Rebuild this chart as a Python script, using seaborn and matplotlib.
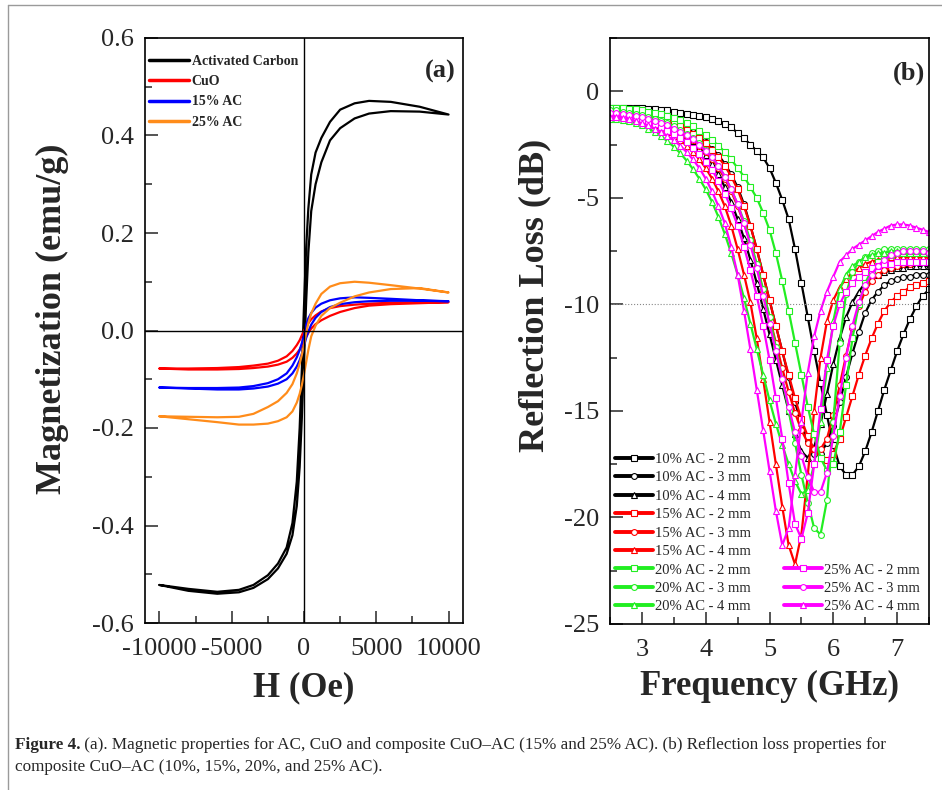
import pandas as pd
import seaborn as sns
import matplotlib.pyplot as plt
from matplotlib.lines import Line2D
from matplotlib.ticker import MultipleLocator

sns.set_style("white")
plt.rcParams["font.family"] = ["Liberation Serif", "DejaVu Serif"]
plt.rcParams["axes.unicode_minus"] = False

# ---------------- panel (a): M-H loops ----------------
field = [-10000, -8000, -6000, -4500, -3500, -2500, -1800, -1200, -800, -500, -300, -150,
         0, 150, 300, 500, 800, 1200, 1800, 2500, 3500, 4500, 6000, 8000, 10000]

# upper = field sweeping down, lower = field sweeping up (both listed low -> high field)
ac_upper = [-0.522, -0.530, -0.536, -0.532, -0.522, -0.502, -0.478, -0.445, -0.395, -0.31, -0.20, -0.08,
            0.05, 0.17, 0.25, 0.32, 0.365, 0.395, 0.428, 0.453, 0.466, 0.471, 0.469, 0.459, 0.443]
ac_lower = [-0.522, -0.534, -0.540, -0.537, -0.528, -0.510, -0.488, -0.458, -0.42, -0.36, -0.28, -0.18,
            -0.06, 0.06, 0.16, 0.245, 0.30, 0.345, 0.39, 0.415, 0.435, 0.445, 0.45, 0.449, 0.443]
cuo_upper = [-0.078, -0.078, -0.077, -0.075, -0.072, -0.068, -0.062, -0.053, -0.042, -0.03, -0.02, -0.01,
             0.0, 0.008, 0.015, 0.023, 0.031, 0.039, 0.046, 0.05, 0.053, 0.055, 0.057, 0.058, 0.058]
cuo_lower = [-0.078, -0.08, -0.08, -0.079, -0.077, -0.074, -0.07, -0.064, -0.056, -0.047, -0.039, -0.031,
             -0.022, -0.013, -0.005, 0.004, 0.013, 0.021, 0.03, 0.038, 0.046, 0.051, 0.054, 0.056, 0.058]
ac15_upper = [-0.117, -0.118, -0.118, -0.117, -0.114, -0.108, -0.1, -0.088, -0.072, -0.055, -0.04, -0.026,
              -0.01, 0.012, 0.025, 0.036, 0.047, 0.055, 0.062, 0.066, 0.068, 0.067, 0.065, 0.062, 0.06]
ac15_lower = [-0.117, -0.119, -0.121, -0.121, -0.119, -0.115, -0.109, -0.1, -0.088, -0.074, -0.061, -0.048,
              -0.032, -0.015, -0.002, 0.012, 0.026, 0.038, 0.048, 0.054, 0.058, 0.06, 0.061, 0.061, 0.06]
ac25_upper = [-0.176, -0.177, -0.178, -0.177, -0.171, -0.157, -0.145, -0.128, -0.11, -0.088, -0.068, -0.05,
              -0.03, -0.005, 0.015, 0.035, 0.055, 0.075, 0.09, 0.097, 0.1, 0.098, 0.093, 0.086, 0.078]
ac25_lower = [-0.176, -0.182, -0.188, -0.193, -0.193, -0.191, -0.186, -0.178, -0.166, -0.148, -0.13, -0.112,
              -0.09, -0.065, -0.04, -0.012, 0.01, 0.03, 0.046, 0.057, 0.07, 0.078, 0.085, 0.087, 0.078]

loops = [("Activated Carbon", ac_lower, ac_upper, "black"),
         ("CuO", cuo_lower, cuo_upper, "#ff0000"),
         ("15% AC", ac15_lower, ac15_upper, "#0000ff"),
         ("25% AC", ac25_lower, ac25_upper, "#ff8c1a")]

# ---------------- panel (b): reflection loss ----------------
freq = [2.5, 2.6, 2.7, 2.8, 2.9, 3.0, 3.1, 3.2, 3.3, 3.4, 3.5, 3.6, 3.7, 3.8, 3.9,
        4.0, 4.1, 4.2, 4.3, 4.4, 4.5, 4.6, 4.7, 4.8, 4.9, 5.0, 5.1, 5.2, 5.3, 5.4,
        5.5, 5.6, 5.7, 5.8, 5.9, 6.0, 6.1, 6.2, 6.3, 6.4, 6.5, 6.6, 6.7, 6.8, 6.9,
        7.0, 7.1, 7.2, 7.3, 7.4, 7.5]

rl_10_2 = [-0.8, -0.8, -0.8, -0.8, -0.8,
           -0.8, -0.85, -0.85, -0.9, -0.9, -0.95, -1.0, -1.05, -1.1, -1.15,
           -1.2, -1.3, -1.4, -1.55, -1.7, -1.95, -2.2, -2.5, -2.8, -3.1,
           -3.6, -4.3, -5.1, -6.0, -7.4, -9.0, -10.6, -12.2, -13.7, -15.2,
           -16.6, -17.6, -18.0, -18.0, -17.6, -16.9, -16.0, -15.0, -14.0, -13.1,
           -12.2, -11.4, -10.7, -10.1, -9.6, -9.3]
rl_10_3 = [-0.85, -0.85, -0.9, -0.9, -0.95,
           -1.0, -1.05, -1.1, -1.2, -1.3, -1.4, -1.55, -1.7, -1.9, -2.15,
           -2.4, -2.7, -3.0, -3.4, -3.9, -4.5, -5.3, -6.3, -7.4, -8.6,
           -9.8, -11.0, -12.2, -13.4, -14.6, -15.6, -16.4, -17.0, -17.0, -16.5,
           -15.7, -14.6, -13.4, -12.3, -11.3, -10.4, -9.8, -9.4, -9.1, -8.9,
           -8.8, -8.7, -8.7, -8.6, -8.6, -8.6]
rl_10_4 = [-0.9, -0.9, -0.95, -1.0, -1.05,
           -1.1, -1.2, -1.3, -1.4, -1.55, -1.7, -1.9, -2.1, -2.35, -2.65,
           -3.0, -3.4, -3.9, -4.5, -5.2, -6.0, -6.9, -7.9, -9.0, -10.2,
           -11.4, -12.6, -13.8, -15.0, -16.1, -16.9, -17.2, -16.7, -15.6, -14.2,
           -12.8, -11.6, -10.6, -9.9, -9.4, -9.0, -8.8, -8.6, -8.5, -8.4,
           -8.3, -8.3, -8.2, -8.2, -8.2, -8.2]
rl_15_2 = [-0.9, -0.9, -0.95, -0.95, -1.0,
           -1.05, -1.1, -1.2, -1.3, -1.4, -1.5, -1.65, -1.8, -2.0, -2.2,
           -2.45, -2.75, -3.1, -3.5, -4.0, -4.6, -5.4, -6.3, -7.4, -8.6,
           -9.8, -11.0, -12.2, -13.3, -14.4, -15.4, -16.2, -16.8, -17.2, -17.3,
           -17.0, -16.3, -15.3, -14.3, -13.3, -12.4, -11.6, -10.9, -10.3, -9.9,
           -9.6, -9.4, -9.2, -9.1, -9.0, -8.9]
rl_15_3 = [-1.0, -1.0, -1.05, -1.1, -1.15,
           -1.2, -1.3, -1.4, -1.5, -1.6, -1.75, -1.9, -2.1, -2.3, -2.55,
           -2.85, -3.2, -3.6, -4.1, -4.7, -5.4, -6.2, -7.1, -8.2, -9.4,
           -10.6, -11.8, -13.0, -14.1, -15.1, -15.9, -16.5, -16.8, -16.8, -16.3,
           -15.2, -13.8, -12.4, -11.1, -10.1, -9.4, -8.9, -8.6, -8.4, -8.3,
           -8.2, -8.1, -8.1, -8.0, -8.0, -8.0]
rl_15_4 = [-1.1, -1.1, -1.15, -1.2, -1.3,
           -1.4, -1.5, -1.6, -1.75, -1.9, -2.1, -2.3, -2.55, -2.85, -3.2,
           -3.6, -4.1, -4.7, -5.4, -6.3, -7.4, -8.6, -9.9, -11.6, -13.5,
           -15.5, -17.5, -19.5, -21.3, -22.2, -20.8, -18.0, -15.0, -12.5, -10.8,
           -9.8, -9.2, -8.8, -8.5, -8.3, -8.1, -8.0, -7.9, -7.9, -7.8,
           -7.8, -7.8, -7.8, -7.8, -7.8, -7.8]
rl_20_2 = [-0.8, -0.8, -0.8, -0.85, -0.85,
           -0.9, -0.95, -1.0, -1.05, -1.15, -1.25, -1.35, -1.5, -1.65, -1.85,
           -2.05, -2.3, -2.55, -2.85, -3.2, -3.6, -4.0, -4.5, -5.0, -5.7,
           -6.5, -7.6, -8.9, -10.3, -11.8, -13.3, -14.8, -16.1, -17.2, -17.8,
           -17.5, -16.0, -13.8, -11.6, -10.0, -9.0, -8.4, -8.0, -7.8, -7.7,
           -7.6, -7.6, -7.6, -7.6, -7.6, -7.6]
rl_20_3 = [-0.9, -0.9, -0.95, -1.0, -1.05,
           -1.1, -1.2, -1.3, -1.4, -1.5, -1.65, -1.8, -2.0, -2.2, -2.45,
           -2.75, -3.1, -3.5, -4.0, -4.6, -5.3, -6.1, -7.0, -8.1, -9.3,
           -10.6, -12.0, -13.5, -15.0, -16.5, -18.0, -19.3, -20.5, -20.8, -19.2,
           -15.5, -11.8, -9.5, -8.5, -8.0, -7.8, -7.6, -7.5, -7.4, -7.4,
           -7.4, -7.4, -7.4, -7.4, -7.4, -7.4]
rl_20_4 = [-1.3, -1.3, -1.35, -1.4, -1.5,
           -1.6, -1.75, -1.9, -2.1, -2.35, -2.6, -2.9, -3.25, -3.65, -4.1,
           -4.6, -5.2, -5.9, -6.7, -7.6, -8.6, -9.7, -10.9, -12.1, -13.3,
           -14.5, -15.6, -16.6, -17.5, -18.3, -18.9, -18.7, -17.5, -15.5, -13.0,
           -10.8, -9.3, -8.6, -8.2, -8.0, -7.8, -7.7, -7.6, -7.6, -7.5,
           -7.5, -7.5, -7.5, -7.5, -7.5, -7.5]
rl_25_2 = [-1.1, -1.1, -1.15, -1.2, -1.25,
           -1.35, -1.45, -1.55, -1.7, -1.85, -2.0, -2.2, -2.4, -2.65, -2.95,
           -3.3, -3.7, -4.2, -4.8, -5.5, -6.3, -7.3, -8.4, -9.6, -11.0,
           -12.6, -14.4, -16.3, -18.4, -20.3, -21.0, -19.8, -17.5, -14.9, -12.6,
           -11.0, -10.0, -9.4, -9.0, -8.7, -8.5, -8.3, -8.2, -8.1, -8.1,
           -8.0, -8.0, -8.0, -8.0, -8.0, -8.0]
rl_25_3 = [-1.0, -1.0, -1.05, -1.1, -1.15,
           -1.2, -1.3, -1.4, -1.5, -1.6, -1.75, -1.9, -2.05, -2.25, -2.5,
           -2.8, -3.1, -3.5, -4.0, -4.6, -5.3, -6.2, -7.2, -8.3, -9.6,
           -10.9, -12.2, -13.5, -14.8, -16.0, -17.1, -18.1, -18.8, -18.8, -17.9,
           -16.2, -14.3, -12.5, -11.0, -9.9, -9.1, -8.6, -8.2, -7.9, -7.7,
           -7.6, -7.5, -7.5, -7.5, -7.5, -7.6]
rl_25_4 = [-1.2, -1.2, -1.25, -1.3, -1.4,
           -1.5, -1.6, -1.75, -1.9, -2.1, -2.3, -2.55, -2.85, -3.2, -3.6,
           -4.1, -4.7, -5.4, -6.2, -7.3, -8.6, -10.3, -12.1, -14.0, -15.9,
           -17.8, -19.7, -21.3, -20.5, -18.0, -15.5, -13.2, -11.5, -10.3, -9.4,
           -8.7, -8.0, -7.7, -7.4, -7.2, -7.0, -6.8, -6.6, -6.45, -6.3,
           -6.25, -6.25, -6.3, -6.4, -6.5, -6.6]

curves = [("10% AC - 2 mm", rl_10_2, "black", "s"),
          ("10% AC - 3 mm", rl_10_3, "black", "o"),
          ("10% AC - 4 mm", rl_10_4, "black", "^"),
          ("15% AC - 2 mm", rl_15_2, "#ff0000", "s"),
          ("15% AC - 3 mm", rl_15_3, "#ff0000", "o"),
          ("15% AC - 4 mm", rl_15_4, "#ff0000", "^"),
          ("20% AC - 2 mm", rl_20_2, "#22ee22", "s"),
          ("20% AC - 3 mm", rl_20_3, "#22ee22", "o"),
          ("20% AC - 4 mm", rl_20_4, "#22ee22", "^"),
          ("25% AC - 2 mm", rl_25_2, "#ff00ff", "s"),
          ("25% AC - 3 mm", rl_25_3, "#ff00ff", "o"),
          ("25% AC - 4 mm", rl_25_4, "#ff00ff", "^")]

fig = plt.figure(figsize=(9.42, 7.90), dpi=100)
ax_a = fig.add_axes([145 / 942, 1 - 623 / 790, 318 / 942, 585 / 790])
ax_b = fig.add_axes([610 / 942, 1 - 624 / 790, 319 / 942, 586 / 790])

# panel (a)
for name, lower, upper, col in loops:
    df = pd.DataFrame({"H": field + field[::-1], "M": lower + upper[::-1]})
    sns.lineplot(data=df, x="H", y="M", sort=False, estimator=None, color=col, lw=1.6,
                 label=name, ax=ax_a)
ax_a.axhline(0, color="black", lw=1)
ax_a.axvline(0, color="black", lw=1)
ax_a.set_xlim(-11000, 11000)
ax_a.set_ylim(-0.6, 0.6)
ax_a.xaxis.set_major_locator(MultipleLocator(5000))
ax_a.xaxis.set_minor_locator(MultipleLocator(2500))
ax_a.yaxis.set_major_locator(MultipleLocator(0.2))
ax_a.yaxis.set_minor_locator(MultipleLocator(0.1))
ax_a.set_xlabel("H (Oe)", fontsize=25, fontweight="bold")
ax_a.set_ylabel("Magnetization (emu/g)", fontsize=26, fontweight="bold")
ax_a.xaxis.set_label_coords(0.5, -0.082)
ax_a.yaxis.set_label_coords(-0.24, 0.52)
ax_a.text(0.977, 0.962, "(a)", transform=ax_a.transAxes, ha="right", va="top",
          fontsize=19, fontweight="bold")
leg_a = ax_a.legend(loc="upper left", bbox_to_anchor=(0.0, 0.978), frameon=False,
                    prop={"weight": "bold", "size": 10}, handlelength=2.9,
                    handletextpad=0.15, labelspacing=0.52, borderaxespad=0.2, borderpad=0.1)
for ln in leg_a.get_lines():
    ln.set_linewidth(2.5)

# panel (b)
for name, rl, col, mk in curves:
    df = pd.DataFrame({"f": freq, "RL": rl})
    sns.lineplot(data=df, x="f", y="RL", color=col, marker=mk, markersize=4.2,
                 markerfacecolor="white", markeredgecolor=col, markeredgewidth=0.8,
                 lw=1.6, label=name, ax=ax_b)
ax_b.axhline(-10, color="#888888", lw=0.8, ls=":")
ax_b.set_xlim(2.5, 7.5)
ax_b.set_ylim(-25, 2.5)
ax_b.xaxis.set_major_locator(MultipleLocator(1))
ax_b.xaxis.set_minor_locator(MultipleLocator(0.5))
ax_b.yaxis.set_major_locator(MultipleLocator(5))
ax_b.yaxis.set_minor_locator(MultipleLocator(2.5))
ax_b.set_xlabel("Frequency (GHz)", fontsize=25, fontweight="bold")
ax_b.set_ylabel("Reflection Loss (dB)", fontsize=26, fontweight="bold")
ax_b.xaxis.set_label_coords(0.5, -0.078)
ax_b.yaxis.set_label_coords(-0.185, 0.56)
ax_b.text(0.987, 0.96, "(b)", transform=ax_b.transAxes, ha="right", va="top",
          fontsize=19, fontweight="bold")

handles, labels = ax_b.get_legend_handles_labels()
leg_kw = dict(frameon=False, prop={"size": 10.5}, handlelength=2.6, handletextpad=0.15,
              labelspacing=0.36, borderaxespad=0.0, borderpad=0.0, loc="lower left")
leg1 = ax_b.legend(handles[:9], labels[:9], bbox_to_anchor=(0.015, 0.018), **leg_kw)
ax_b.add_artist(leg1)
leg2 = ax_b.legend(handles[9:], labels[9:], bbox_to_anchor=(0.545, 0.018), **leg_kw)
for leg in (leg1, leg2):
    for ln in leg.get_lines():
        ln.set_linewidth(2.8)

for ax in (ax_a, ax_b):
    ax.tick_params(which="major", direction="in", length=9, width=1.1, labelsize=19,
                   top=False, right=False, left=True, bottom=True, pad=8)
    ax.tick_params(which="minor", direction="in", length=5, width=1.1,
                   top=False, right=False, left=True, bottom=True)
    ax.tick_params(axis="x", pad=11)
    for sp in ax.spines.values():
        sp.set_linewidth(1.2)
        sp.set_color("black")

# page frame and caption
fig.add_artist(Line2D([8 / 942, 8 / 942], [0, 1 - 5 / 790], color="#9a9a9a", lw=1))
fig.add_artist(Line2D([8 / 942, 1], [1 - 5 / 790, 1 - 5 / 790], color="#9a9a9a", lw=1))
cap1 = fig.text(15 / 942, 1 - 749 / 790, "Figure 4.", fontsize=12.3, fontweight="bold",
                va="baseline")
ax_a.annotate(" (a). Magnetic properties for AC, CuO and composite CuO\u2013AC (15% and 25% AC). "
              "(b) Reflection loss properties for",
              xy=(1, 0), xycoords=cap1, ha="left", va="bottom", fontsize=12.3,
              annotation_clip=False)
fig.text(15 / 942, 1 - 771 / 790, "composite CuO\u2013AC (10%, 15%, 20%, and 25% AC).",
         fontsize=12.3, va="baseline")

fig.savefig("out.png", dpi=100)
